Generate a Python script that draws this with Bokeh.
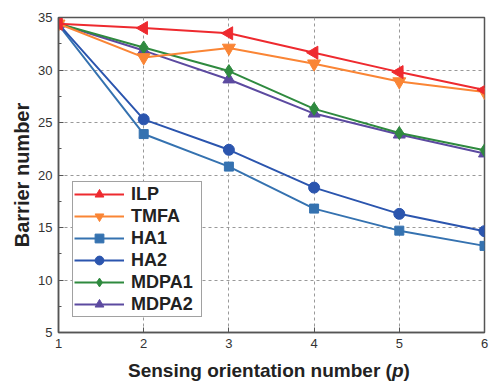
from bokeh.plotting import figure
from bokeh.models import Legend, LegendItem, SingleIntervalTicker, Range1d, Div
from bokeh.layouts import column
from bokeh.embed import file_html
from bokeh.resources import INLINE
import math

p_values = [1, 2, 3, 4, 5, 6]
ilp = [34.4, 34.0, 33.5, 31.65, 29.8, 28.1]
tmfa = [34.4, 31.2, 32.1, 30.6, 28.9, 27.9]
ha1 = [34.3, 23.9, 20.8, 16.8, 14.7, 13.25]
ha2 = [34.4, 25.3, 22.4, 18.8, 16.3, 14.65]
mdpa1 = [34.4, 32.15, 29.9, 26.3, 24.0, 22.35]
mdpa2 = [34.4, 31.85, 29.1, 25.85, 23.85, 22.05]

names = ["ILP", "TMFA", "HA1", "HA2", "MDPA1", "MDPA2"]
colors = ["#ee2a2f", "#fa8535", "#3572b0", "#2b55ae", "#2f8a3f", "#5c4aa0"]
markers = ["triangle", "inverted_triangle", "square", "circle", "diamond", "triangle"]
angles = [math.pi / 2, 0, 0, 0, 0, 0]
sizes = [13, 13, 9, 11, 13, 12]
series = [ilp, tmfa, ha1, ha2, mdpa1, mdpa2]

FONT = "Liberation Sans"

p = figure(width=495, height=358, output_backend="svg", toolbar_location=None,
           x_range=Range1d(1, 6), y_range=Range1d(5, 35),
           min_border_left=58, min_border_right=11, min_border_top=17, min_border_bottom=26,
           margin=(0, 0, 0, 0))
p.background_fill_color = "white"
p.border_fill_color = "white"
p.outline_line_color = "#555555"
p.outline_line_width = 1.5

p.xaxis.ticker = SingleIntervalTicker(interval=1, num_minor_ticks=0)
p.yaxis.ticker = SingleIntervalTicker(interval=5, num_minor_ticks=2)
for ax in (p.xaxis, p.yaxis):
    ax.major_label_text_font = FONT
    ax.major_label_text_font_size = "13px"
    ax.major_label_text_color = "#333333"
    ax.major_tick_in = 5
    ax.major_tick_out = 0
    ax.minor_tick_in = 3
    ax.minor_tick_out = 0
    ax.axis_line_color = "#555555"
    ax.axis_line_width = 1.5
    ax.major_tick_line_color = "#555555"
    ax.minor_tick_line_color = "#555555"
    ax.major_label_standoff = 6
p.yaxis.axis_label = "Barrier number"
p.yaxis.axis_label_text_font = FONT
p.yaxis.axis_label_text_font_style = "bold"
p.yaxis.axis_label_text_font_size = "20px"
p.yaxis.axis_label_text_color = "#222222"
p.yaxis.axis_label_standoff = 2

for g in (p.xgrid, p.ygrid):
    g.grid_line_color = "#999999"
    g.grid_line_dash = "3 3"
    g.grid_line_width = 1

order = [2, 3, 5, 4, 1, 0]
rends = {}
for i in order:
    ln = p.line(p_values, series[i], line_color=colors[i], line_width=2)
    sc = p.scatter(p_values, series[i], marker=markers[i], size=sizes[i], angle=angles[i],
                   fill_color=colors[i], line_color=colors[i])
    rends[i] = [ln, sc]

items = [LegendItem(label=names[i], renderers=rends[i]) for i in range(6)]
legend = Legend(items=items, location=(14, 15))
legend.label_text_font = FONT
legend.label_text_font_style = "bold"
legend.label_text_font_size = "18px"
legend.label_text_color = "#222222"
legend.glyph_width = 50
legend.glyph_height = 22
legend.label_height = 20
legend.label_width = 69
legend.spacing = 0
legend.padding = 1
legend.margin = 0
legend.label_standoff = 7
legend.border_line_color = "#444444"
legend.border_line_width = 1
legend.background_fill_alpha = 1
p.add_layout(legend, "center")

xlabel = Div(
    text='<div style="padding-left:128px; font-family:\'Liberation Sans\'; font-size:19px; '
         'font-weight:bold; line-height:26px; color:#222222; white-space:nowrap">'
         'Sensing orientation number (<i>p</i>)</div>',
    width=495, height=23, margin=(0, 0, 0, 0))

layout = column(p, xlabel, spacing=0, margin=(0, 0, 0, 0))
open("out.html", "w").write(file_html(layout, INLINE))
